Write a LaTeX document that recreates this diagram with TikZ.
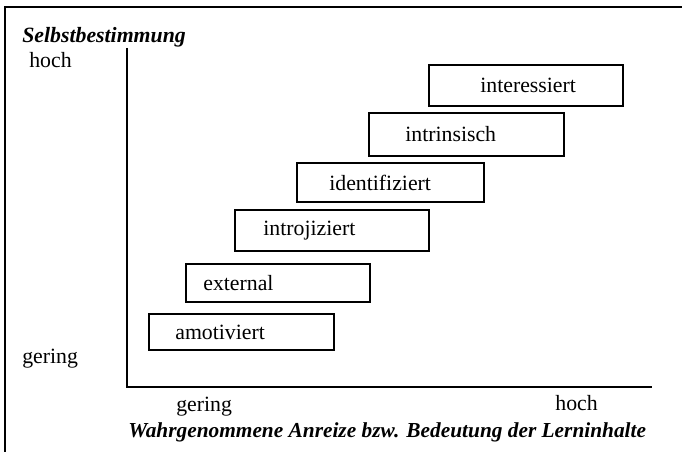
\documentclass[tikz,border=0pt]{standalone}
\usepackage{fontspec}
\setmainfont{Liberation Serif}
\usetikzlibrary{positioning}

\begin{document}
\begin{tikzpicture}[
  x=0.02cm,y=-0.02cm,
  every node/.style={font=\fontsize{12.4}{15}\selectfont},
  stufe/.style={draw,line width=1.2pt,anchor=north west,inner sep=0pt},
  txt/.style={inner sep=0pt},
  titel/.style={inner sep=0pt,anchor=base west,font=\fontsize{12.4}{15}\selectfont\bfseries\itshape},
  achse/.style={line width=1.2pt}]
  \useasboundingbox (0,0) rectangle (682,452);
  % frame (cut at right and bottom)
  \coordinate (f1) at (5,452);
  \coordinate (f2) at (5,7);
  \coordinate (f3) at (682,7);
  \draw[line width=1pt] (f1)--(f2)--(f3);
  % axes
  \coordinate (o) at (127,387);
  \coordinate (ytop) at (127,48);
  \coordinate (xend) at (652,387);
  \draw[achse] (ytop)--(o)--(xend);
  % steps
  \node (amo)   [stufe,minimum width=3.70cm,minimum height=0.72cm] at (148,313) {};
  \node (ext)   [stufe,minimum width=3.68cm,minimum height=0.76cm] at (185,263) {};
  \node (intro) [stufe,minimum width=3.88cm,minimum height=0.82cm] at (234,209) {};
  \node (ident) [stufe,minimum width=3.74cm,minimum height=0.78cm] at (296,162) {};
  \node (intr)  [stufe,minimum width=3.90cm,minimum height=0.86cm] at (368,112) {};
  \node (inter) [stufe,minimum width=3.88cm,minimum height=0.82cm] at (428,64) {};
  \node (tamo)   [txt,right=0.54cm of amo.west]   {amotiviert};
  \node (text)   [txt,right=0.36cm of ext.west]   {external};
  \node (tintro) [txt,right=0.58cm of intro.west] {introjiziert};
  \node (tident) [txt,right=0.66cm of ident.west] {identifiziert};
  \node (tintr)  [txt,right=0.74cm of intr.west]  {intrinsisch};
  \node (tinter) [txt,right=1.04cm of inter.west] {interessiert};
  % axis labels
  \node (ylab) [titel] at (22,43) {Selbstbestimmung};
  \node (yhoch) [txt,anchor=base west] at (29,68) {hoch};
  \node (ygering) [txt,anchor=base west] at (22,363) {gering};
  \node (xgering) [txt,anchor=base west] at (176,411) {gering};
  \node (xhoch) [txt,anchor=base west] at (555,410) {hoch};
  \node (xlab) [titel,font=\fontsize{12.15}{15}\selectfont\bfseries\itshape] at (128,437) {Wahrgenommene Anreize bzw. Bedeutung der Lerninhalte};
\end{tikzpicture}
\end{document}
